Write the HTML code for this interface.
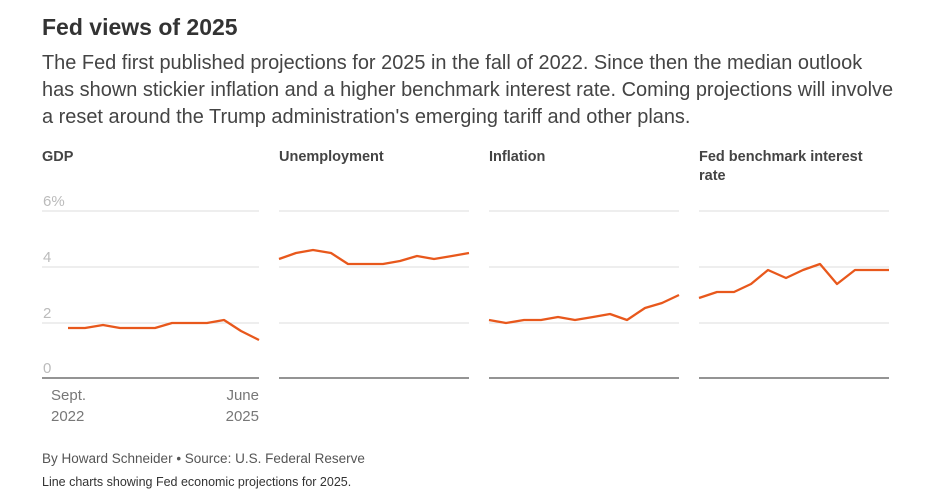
<!DOCTYPE html>
<html><head><meta charset="utf-8"><style>
body{margin:0;background:#fff;font-family:"Liberation Sans",sans-serif;width:946px;height:495px;overflow:hidden;position:relative}
.t{position:absolute;left:42px;top:14px;font-size:23px;font-weight:bold;color:#333}
.d{position:absolute;left:42px;top:50px;font-size:19.95px;line-height:27px;color:#444;width:900px;white-space:nowrap}
.h{position:absolute;top:148px;font-size:14.5px;font-weight:bold;color:#444;line-height:19px}
.f{position:absolute;left:42px;font-size:13.5px;color:#555}
</style></head><body>
<div class="t">Fed views of 2025</div>
<div class="d">The Fed first published projections for 2025 in the fall of 2022. Since then the median outlook<br>has shown stickier inflation and a higher benchmark interest rate. Coming projections will involve<br>a reset around the Trump administration's emerging tariff and other plans.</div>
<div class="h" style="left:42px">GDP</div>
<div class="h" style="left:279px">Unemployment</div>
<div class="h" style="left:489px">Inflation</div>
<div class="h" style="left:699px;width:190px">Fed benchmark interest rate</div>
<svg width="946" height="495" style="position:absolute;left:0;top:0" font-family="Liberation Sans, sans-serif">
<g stroke="#ddd" stroke-width="1">
<path d="M42 211H259M42 267H259M42 323H259M279 211H469M279 267H469M279 323H469M489 211H679M489 267H679M489 323H679M699 211H889M699 267H889M699 323H889"/></g>
<g stroke="#555" stroke-width="1.3"><path d="M42 378H259M279 378H469M489 378H679M699 378H889"/></g>
<g fill="#bbb" font-size="15"><text x="43" y="206">6%</text><text x="43" y="262">4</text><text x="43" y="318">2</text><text x="43" y="373">0</text></g>
<g fill="#777" font-size="15"><text x="51" y="400">Sept.</text><text x="51" y="421">2022</text><text x="259" y="400" text-anchor="end">June</text><text x="259" y="421" text-anchor="end">2025</text></g>
<g fill="none" stroke="#e8581c" stroke-width="2.3" stroke-linejoin="round">
<polyline points="68,328 85,328 103,325 120,328 137,328 155,328 172,323 189,323 207,323 224,320 241,331 259,340"/>
<polyline points="279,259 296,253 313,250 331,253 348,264 365,264 383,264 400,261 417,256 434,259 452,256 469,253"/>
<polyline points="489,320 506,323 524,320 541,320 558,317 575,320 593,317 610,314 627,320 645,308 662,303 679,295"/>
<polyline points="699,298 717,292 734,292 751,284 768,270 786,278 803,270 820,264 837,284 855,270 872,270 889,270"/>
</g></svg>
<div class="f" style="top:451px">By Howard Schneider • Source: U.S. Federal Reserve</div>
<div class="f" style="top:475px;font-size:12.5px;color:#333">Line charts showing Fed economic projections for 2025.</div>
</body></html>
